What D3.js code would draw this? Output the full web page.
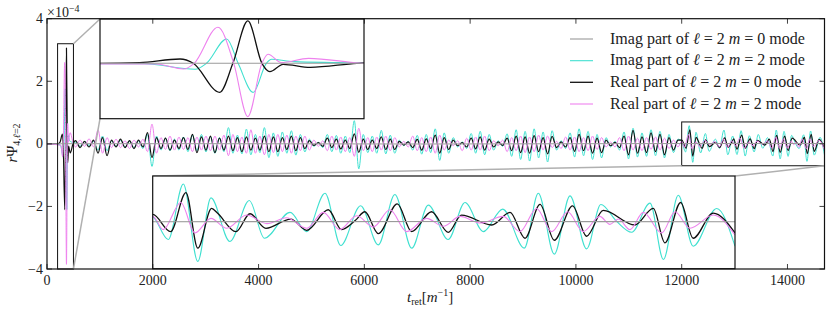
<!DOCTYPE html>
<html>
<head>
<meta charset="utf-8">
<script src="https://cdn.jsdelivr.net/npm/d3@7"></script>
<style>
  body { margin: 0; background: #fff; }
</style>
</head>
<body>
<svg id="chart"></svg>
<script>
// values are in units of 1e-4, time in m^-1
const xTicks = [0, 2000, 4000, 6000, 8000, 10000, 12000, 14000];
const yTicks = [-4, -2, 0, 2, 4];
const legendLabels = [
  ["Imag", "0"],
  ["Imag", "2"],
  ["Real", "0"],
  ["Real", "2"]
];

// merger burst (t 0 - 500)
const burstImag20 = [[0, 0], [250, 0.003], [500, 0.005]];
const burstImag22 = [[0, 0], [250, -0.03], [308, -0.43], [321, 0], [344, 1.76], [357, 0], [374, -2.1], [389, 0], [395, 0.29], [420, 0.12], [470, 0.05], [500, 0.01]];
const burstReal20 = [[0, 0], [200, 0], [245, 0.05], [291, 0.31], [306, 0], [336, -2.1], [351, 0], [368, 3.06], [384, 0], [393, -0.6], [408, -0.07], [439, -0.29], [492, 0]];
const burstReal22 = [[0, 0], [264, -0.05], [295, -0.41], [307, 0], [334, 2.6], [352, 0], [368, -3.85], [384, 0], [391, 0.65], [406, 0.05], [437, 0.36], [495, 0.02]];

// long ringing part, one value per half cycle starting at midStart
const midStart = 540, midStep = 85;
const midImag22 = [
  0.06, -0.08, 0.07, -0.05, 0.08, -0.2, 0.25, -0.22, 0.1, -0.08,
  0.12, -0.1, 0.08, -0.12, 0.1, -0.15, 0.3, -0.72, 0.25, -0.2,
  0.18, -0.22, 0.15, -0.2, 0.22, -0.25, 0.28, -0.22, 0.3, -0.26,
  0.24, -0.3, 0.2, -0.25, 0.52, -0.3, 0.28, -0.32, 0.47, -0.35,
  0.3, -0.28, 0.52, -0.44, 0.35, -0.4, 0.38, -0.3, 0.42, -0.36,
  0.3, -0.26, 0.15, -0.08, 0.05, -0.12, 0.3, -0.25, 0.27, -0.3,
  0.25, -0.28, 0.74, -0.8, 0.3, -0.28, 0.25, -0.3, 0.43, -0.32,
  0.28, -0.3, 0.12, -0.06, 0.08, -0.2, 0.27, -0.33, 0.3, -0.28,
  0.48, -0.53, 0.35, -0.3, 0.2, -0.1, 0.06, -0.15, 0.33, -0.3,
  0.4, -0.35, 0.3, -0.2, 0.1, -0.08, 0.32, -0.4, 0.45, -0.5,
  0.4, -0.55, 0.48, -0.45, 0.38, -0.58, 0.42, -0.2, 0.1, -0.15,
  0.35, -0.42, 0.48, -0.38, 0.4, -0.5, 0.3, -0.45, 0.2, -0.1,
  0.08, -0.2, 0.38, -0.48, 0.5, -0.42, 0.35, -0.4, 0.45, -0.38,
  0.4, -0.45, 0.3, -0.28, 0.15
];
const midReal20 = [
  0.1, -0.12, 0.08, -0.1, 0.12, -0.3, 0.2, -0.38, 0.12, -0.1,
  0.15, -0.12, 0.1, -0.15, 0.12, -0.1, 0.36, -0.44, 0.2, -0.15,
  0.18, -0.2, 0.12, -0.15, 0.2, -0.18, 0.3, -0.28, 0.22, -0.2,
  0.25, -0.28, 0.18, -0.2, 0.25, -0.22, 0.2, -0.25, 0.22, -0.2,
  0.18, -0.2, 0.25, -0.25, 0.22, -0.25, 0.2, -0.18, 0.25, -0.22,
  0.2, -0.15, 0.1, -0.05, 0.04, -0.08, 0.18, -0.12, 0.15, -0.16,
  0.12, -0.15, 0.32, -0.27, 0.15, -0.18, 0.12, -0.15, 0.22, -0.18,
  0.15, -0.18, 0.08, -0.04, 0.06, -0.12, 0.14, -0.2, 0.16, -0.15,
  0.28, -0.3, 0.2, -0.18, 0.12, -0.06, 0.04, -0.1, 0.18, -0.16,
  0.22, -0.2, 0.15, -0.1, 0.06, -0.05, 0.18, -0.22, 0.25, -0.28,
  0.22, -0.3, 0.26, -0.25, 0.2, -0.32, 0.24, -0.12, 0.06, -0.1,
  0.2, -0.24, 0.3, -0.22, 0.25, -0.3, 0.18, -0.28, 0.12, -0.06,
  0.05, -0.12, 0.25, -0.35, 0.43, -0.3, 0.22, -0.28, 0.35, -0.25,
  0.3, -0.35, 0.2, -0.2, 0.12
];
const midReal22 = [
  -0.1, 0.12, -0.08, 0.16, -0.1, 0.45, -0.3, 0.2, -0.12, 0.15,
  -0.12, 0.1, -0.15, 0.12, -0.1, 0.15, -0.25, 0.63, -0.3, 0.2,
  -0.18, 0.25, -0.2, 0.22, -0.18, 0.2, -0.25, 0.22, -0.2, 0.25,
  -0.22, 0.25, -0.2, 0.28, -0.38, 0.3, -0.25, 0.22, -0.3, 0.45,
  -0.3, 0.25, -0.35, 0.3, -0.28, 0.3, -0.25, 0.28, -0.3, 0.25,
  -0.22, 0.25, -0.2, 0.12, -0.08, 0.1, -0.22, 0.25, -0.2, 0.22,
  -0.25, 0.2, -0.4, 0.5, -0.22, 0.2, -0.25, 0.22, -0.2, 0.25,
  -0.22, 0.2, -0.1, 0.08, -0.1, 0.25, -0.22, 0.2, -0.25, 0.22,
  -0.3, 0.28, -0.2, 0.12, -0.06, 0.1, -0.22, 0.18, -0.2, 0.22,
  -0.2, 0.25, -0.22, 0.1, -0.06, 0.12, -0.25, 0.2, -0.22, 0.25,
  -0.28, 0.22, -0.25, 0.28, -0.2, 0.25, -0.12, 0.08, -0.15, 0.22,
  -0.2, 0.22, -0.25, 0.2, -0.22, 0.25, -0.18, 0.2, -0.1, 0.06,
  -0.1, 0.2, -0.22, 0.25, -0.2, 0.18, -0.22, 0.2, -0.18, 0.22,
  -0.2, 0.18, -0.15, 0.12, -0.1
];
const midImag20 = [[3000, 0.005], [7000, -0.005], [11000, 0.008]];

// late part (t 12000 - 14700)
const tailImag20 = [[12000, 0.01], [13500, 0.012], [14700, 0.01]];
const tailImag22 = [[12000, 0.09], [12072, -0.26], [12142, 0.58], [12209, -0.59], [12270, 0.37], [12358, -0.29], [12448, 0.33], [12518, -0.24], [12637, 0.15], [12714, -0.14], [12799, 0.44], [12872, -0.35], [12964, 0.25], [13046, -0.34], [13123, 0.42], [13201, -0.39], [13278, 0.26], [13370, -0.26], [13448, 0.3], [13533, -0.14], [13623, 0.2], [13723, -0.39], [13788, 0.44], [13862, -0.48], [13935, 0.4], [14012, -0.4], [14078, 0.27], [14150, 0.02], [14221, -0.15], [14306, 0.29], [14368, -0.56], [14437, 0.41], [14506, -0.36], [14615, 0.21], [14700, -0.36]];
const tailReal20 = [[12000, 0.12], [12083, -0.14], [12154, 0.45], [12209, -0.39], [12273, 0.21], [12300, 0.14], [12386, -0.14], [12451, 0.13], [12525, -0.09], [12640, 0.05], [12714, -0.12], [12814, 0.19], [12876, -0.11], [12940, 0.03], [12984, 0.16], [13046, -0.17], [13134, 0.28], [13201, -0.14], [13293, 0.16], [13370, -0.15], [13432, 0.11], [13572, -0.04], [13657, 0.15], [13726, -0.24], [13796, 0.27], [13862, -0.27], [13947, 0.25], [14012, -0.21], [14089, 0.18], [14236, -0.04], [14321, 0.21], [14375, -0.31], [14448, 0.3], [14506, -0.24], [14599, 0.14], [14700, -0.16]];
const tailReal22 = [[12000, 0.09], [12049, -0.11], [12130, 0.3], [12196, -0.16], [12270, 0.06], [12343, -0.09], [12436, 0.11], [12530, -0.02], [12620, 0.07], [12714, -0.09], [12791, 0.15], [12867, -0.11], [12946, 0.1], [13023, -0.07], [13100, 0.19], [13178, -0.14], [13270, 0.06], [13348, -0.06], [13425, 0.09], [13520, -0.01], [13625, 0.09], [13703, -0.14], [13780, 0.21], [13850, -0.14], [13924, 0.16], [13996, -0.14], [14073, 0.09], [14120, -0.03], [14159, 0.05], [14213, -0.11], [14275, 0.15], [14360, -0.16], [14422, 0.16], [14491, -0.09], [14599, 0.11], [14700, -0.19]];

const colors = ["#9a9a9a", "#40E0D0", "#111111", "#EE82EE"];
const serif = "'Liberation Serif', 'DejaVu Serif', serif";

function midPairs(vals) {
  return vals.map((v, i) => [midStart + i * midStep, v]);
}

const series = [
  burstImag20.concat(midImag20, tailImag20),
  burstImag22.concat(midPairs(midImag22), tailImag22),
  burstReal20.concat(midPairs(midReal20), tailReal20),
  burstReal22.concat(midPairs(midReal22), tailReal22)
];
// gray line is drawn last so it sits on top, like the original
const drawOrder = [1, 2, 3, 0];

const width = 831, height = 313;
const svg = d3.select("#chart")
  .attr("width", width).attr("height", height)
  .attr("font-family", serif)
  .style("font-family", serif);

const x = d3.scaleLinear().domain([0, 14700]).range([47, 824.5]);
const y = d3.scaleLinear().domain([-4, 4]).range([269, 18.7]);

// insets: data window and pixel box
const insets = [
  { xd: [200, 500], yd: [-4, 3.2], xr: [100, 364], yr: [118.7, 19] },
  { xd: [12000, 14700], yd: [-0.7, 0.7], xr: [152.7, 735], yr: [268.7, 176] }
];

const defs = svg.append("defs");
defs.append("clipPath").attr("id", "clipMain")
  .append("rect").attr("x", 47).attr("y", 18.7).attr("width", 777.5).attr("height", 250.3);

function drawSeries(g, xs, ys, lw) {
  const line = d3.line()
    .x(d => xs(d[0]))
    .y(d => ys(d[1]))
    .curve(d3.curveMonotoneX);
  drawOrder.forEach(k => {
    g.append("path")
      .attr("d", line(series[k]))
      .attr("fill", "none")
      .attr("stroke", colors[k])
      .attr("stroke-width", k === 2 ? lw + 0.2 : lw);
  });
}

// main lines
const mainG = svg.append("g").attr("clip-path", "url(#clipMain)");
drawSeries(mainG, x, y, 1);

// zoom rectangles and connectors
insets.forEach((ins, i) => {
  const rx0 = x(ins.xd[0]), rx1 = x(ins.xd[1]);
  const ry0 = y(ins.yd[1]), ry1 = y(ins.yd[0]);
  svg.append("rect")
    .attr("x", rx0).attr("y", ry0)
    .attr("width", rx1 - rx0).attr("height", ry1 - ry0)
    .attr("fill", "none").attr("stroke", "#111").attr("stroke-width", 1);
  let links;
  if (i === 0) {
    links = [[rx1, ry0, ins.xr[0], ins.yr[1]], [rx1, ry1, ins.xr[0], ins.yr[0]]];
  } else {
    links = [[rx0, ry1, ins.xr[0], ins.yr[1]], [rx1, ry1, ins.xr[1], ins.yr[1]]];
  }
  links.forEach(l => {
    svg.append("line")
      .attr("x1", l[0]).attr("y1", l[1]).attr("x2", l[2]).attr("y2", l[3])
      .attr("stroke", "#b0b0b0").attr("stroke-width", 1.5);
  });
});

// inset axes
insets.forEach((ins, i) => {
  const xs = d3.scaleLinear().domain(ins.xd).range(ins.xr);
  const ys = d3.scaleLinear().domain(ins.yd).range(ins.yr);
  const id = "clipInset" + i;
  defs.append("clipPath").attr("id", id)
    .append("rect").attr("x", ins.xr[0]).attr("y", ins.yr[1])
    .attr("width", ins.xr[1] - ins.xr[0]).attr("height", ins.yr[0] - ins.yr[1]);
  svg.append("rect")
    .attr("x", ins.xr[0]).attr("y", ins.yr[1])
    .attr("width", ins.xr[1] - ins.xr[0]).attr("height", ins.yr[0] - ins.yr[1])
    .attr("fill", "#fff");
  const g = svg.append("g").attr("clip-path", `url(#${id})`);
  drawSeries(g, xs, ys, 1.1);
  svg.append("rect")
    .attr("x", ins.xr[0]).attr("y", ins.yr[1])
    .attr("width", ins.xr[1] - ins.xr[0]).attr("height", ins.yr[0] - ins.yr[1])
    .attr("fill", "none").attr("stroke", "#111").attr("stroke-width", 1.2);
});

// main frame and inward ticks
svg.append("rect")
  .attr("x", 47).attr("y", 18.7).attr("width", 777.5).attr("height", 250.3)
  .attr("fill", "none").attr("stroke", "#111").attr("stroke-width", 1.2);

const tickG = svg.append("g").attr("stroke", "#111").attr("stroke-width", 0.8);
xTicks.forEach(t => {
  tickG.append("line").attr("x1", x(t)).attr("x2", x(t)).attr("y1", 269).attr("y2", 264);
  tickG.append("line").attr("x1", x(t)).attr("x2", x(t)).attr("y1", 18.7).attr("y2", 23.7);
});
yTicks.forEach(v => {
  tickG.append("line").attr("x1", 47).attr("x2", 52).attr("y1", y(v)).attr("y2", y(v));
  tickG.append("line").attr("x1", 824.5).attr("x2", 819.5).attr("y1", y(v)).attr("y2", y(v));
});

const fmt = v => (v < 0 ? "\u2212" + Math.abs(v) : String(v));
const txt = svg.append("g").attr("fill", "#222").attr("font-family", serif);

txt.append("g").selectAll("text").data(xTicks).join("text")
  .attr("x", d => x(d)).attr("y", 285)
  .attr("text-anchor", "middle").attr("font-size", 14)
  .text(d => d);
txt.append("g").selectAll("text").data(yTicks).join("text")
  .attr("x", 43).attr("y", d => y(d) + 4.5)
  .attr("text-anchor", "end").attr("font-size", 14)
  .text(d => fmt(d));

// offset text
const off = txt.append("text").attr("x", 47).attr("y", 17).attr("font-size", 14);
off.append("tspan").text("\u00d710");
off.append("tspan").attr("dy", -5).attr("font-size", 10).text("\u22124");

// axis labels
const xl = txt.append("text").attr("x", 407).attr("y", 302).attr("font-size", 15);
xl.append("tspan").attr("font-style", "italic").text("t");
xl.append("tspan").attr("dy", 3).attr("font-size", 10).text("ret");
xl.append("tspan").attr("dy", -3).text("[");
xl.append("tspan").attr("font-style", "italic").text("m");
xl.append("tspan").attr("dy", -6).attr("font-size", 10).text("\u22121");
xl.append("tspan").attr("dy", 6).text("]");

const yl = txt.append("text")
  .attr("transform", "translate(17,143) rotate(-90)")
  .attr("text-anchor", "middle").attr("font-size", 15);
yl.append("tspan").attr("font-style", "italic").text("r");
yl.append("tspan").text("\u03a8");
yl.append("tspan").attr("dy", 3).attr("font-size", 10).text("4,");
yl.append("tspan").attr("font-size", 10).attr("font-style", "italic").text("\u2113");
yl.append("tspan").attr("font-size", 10).text("=2");

// legend
const legRows = [39, 60.7, 82.3, 104];
legendLabels.forEach((lab, i) => {
  svg.append("line")
    .attr("x1", 570).attr("x2", 593).attr("y1", legRows[i]).attr("y2", legRows[i])
    .attr("stroke", colors[i]).attr("stroke-width", i === 2 ? 1.3 : 1.1);
  const t = txt.append("text").attr("x", 610).attr("y", legRows[i] + 4.5).attr("font-size", 16);
  t.append("tspan").text(lab[0] + " part of ");
  t.append("tspan").attr("font-style", "italic").text("\u2113");
  t.append("tspan").text(" = 2 ");
  t.append("tspan").attr("font-style", "italic").text("m");
  t.append("tspan").text(" = " + lab[1] + " mode");
});
</script>
</body>
</html>
